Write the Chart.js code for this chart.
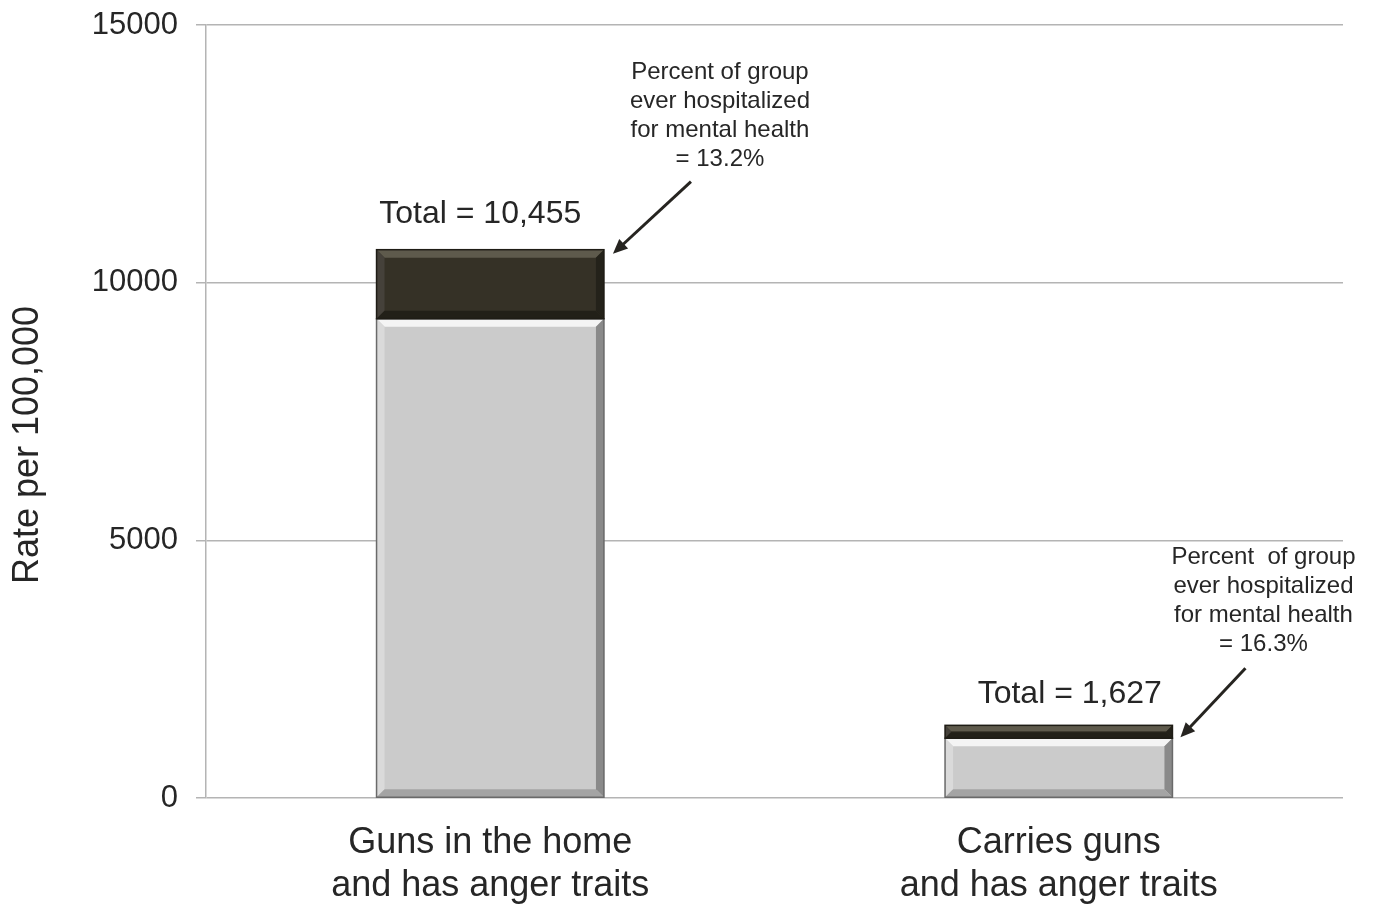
<!DOCTYPE html>
<html>
<head>
<meta charset="utf-8">
<script src="https://cdn.jsdelivr.net/npm/chart.js@4.4.0/dist/chart.umd.min.js"></script>
<style>
  html, body { margin: 0; padding: 0; background: #fff; }
  #wrap { width: 1376px; height: 906px; }
</style>
</head>
<body>
<div id="wrap"><canvas id="chart" width="1376" height="906"></canvas></div>
<script>
// data
const categories = [["Guns in the home", "and has anger traits"], ["Carries guns", "and has anger traits"]];
const neverHospitalized = [9300, 1160];
const everHospitalized = [1340, 250];
const totalLabels = ["Total = 10,455", "Total = 1,627"];
const percentNotes = [
  ["Percent of group", "ever hospitalized", "for mental health", "= 13.2%"],
  ["Percent  of group", "ever hospitalized", "for mental health", "= 16.3%"]
];
const yTicks = [0, 5000, 10000, 15000];
const yTitle = "Rate per 100,000";

// placement of the callouts, relative to the top-right corner of each bar
const callouts = [
  { totalDx: -10, totalDy: -36, noteDx: 116, noteDy: -177, tail: [87, -68], tip: [9, 4] },
  { totalDx: 11, totalDy: -31, noteDx: 91, noteDy: -168, tail: [73, -57], tip: [8, 12] }
];

const FONT = "'Liberation Sans', Arial, sans-serif";
const TEXT = '#262626';

// bevelled bar look
const bevelPlugin = {
  id: 'bevel',
  afterDatasetsDraw(chart) {
    const ctx = chart.ctx;
    const styles = [
      { top: '#f4f4f4', left: '#dadada', right: '#8a8a8a', bottom: '#a4a4a4', edge: '#6a6a6a' },
      { top: '#5e5a4c', left: '#45413a', right: '#24221a', bottom: '#222018', edge: '#1e1c15' }
    ];
    chart.data.datasets.forEach((ds, di) => {
      const meta = chart.getDatasetMeta(di);
      meta.data.forEach(bar => {
        const x0 = bar.x - bar.width / 2, x1 = bar.x + bar.width / 2;
        const y0 = Math.min(bar.y, bar.base), y1 = Math.max(bar.y, bar.base);
        const b = Math.min(8, (y1 - y0) / 2.2);
        const s = styles[di];
        const poly = (pts, c) => {
          ctx.beginPath();
          ctx.moveTo(pts[0][0], pts[0][1]);
          pts.slice(1).forEach(p => ctx.lineTo(p[0], p[1]));
          ctx.closePath();
          ctx.fillStyle = c;
          ctx.fill();
        };
        ctx.save();
        poly([[x0, y0], [x1, y0], [x1 - b, y0 + b], [x0 + b, y0 + b]], s.top);
        poly([[x0, y0], [x0 + b, y0 + b], [x0 + b, y1 - b], [x0, y1]], s.left);
        poly([[x1, y0], [x1, y1], [x1 - b, y1 - b], [x1 - b, y0 + b]], s.right);
        poly([[x0, y1], [x0 + b, y1 - b], [x1 - b, y1 - b], [x1, y1]], s.bottom);
        ctx.strokeStyle = s.edge;
        ctx.lineWidth = 1.5;
        ctx.strokeRect(x0, y0, x1 - x0, y1 - y0);
        ctx.restore();
      });
    });
  }
};

// totals, notes, arrows and the axis title (sits a bit below the middle)
const calloutPlugin = {
  id: 'callouts',
  afterDraw(chart) {
    const ctx = chart.ctx;
    const area = chart.chartArea;

    ctx.save();
    ctx.translate(28, area.bottom - 353);
    ctx.rotate(-Math.PI / 2);
    ctx.fillStyle = TEXT;
    ctx.textAlign = 'center';
    ctx.textBaseline = 'middle';
    ctx.font = '36px ' + FONT;
    ctx.fillText(yTitle, 0, 0);
    ctx.restore();

    const topMeta = chart.getDatasetMeta(1);
    topMeta.data.forEach((bar, i) => {
      const c = callouts[i];
      const right = bar.x + bar.width / 2;
      const top = bar.y;
      ctx.save();
      ctx.fillStyle = TEXT;
      ctx.textAlign = 'center';
      ctx.textBaseline = 'middle';
      ctx.font = '32px ' + FONT;
      ctx.fillText(totalLabels[i], bar.x + c.totalDx, top + c.totalDy);
      ctx.font = '24px ' + FONT;
      percentNotes[i].forEach((line, k) => {
        ctx.fillText(line, right + c.noteDx, top + c.noteDy + k * 29);
      });
      // arrow
      const tx = right + c.tip[0], ty = top + c.tip[1];
      const sx = right + c.tail[0], sy = top + c.tail[1];
      const ang = Math.atan2(ty - sy, tx - sx);
      const head = 16;
      ctx.strokeStyle = '#262420';
      ctx.fillStyle = '#262420';
      ctx.lineWidth = 3;
      ctx.beginPath();
      ctx.moveTo(sx, sy);
      ctx.lineTo(tx - Math.cos(ang) * head * 0.8, ty - Math.sin(ang) * head * 0.8);
      ctx.stroke();
      ctx.beginPath();
      ctx.moveTo(tx, ty);
      ctx.lineTo(tx - head * Math.cos(ang - 0.42), ty - head * Math.sin(ang - 0.42));
      ctx.lineTo(tx - head * Math.cos(ang + 0.42), ty - head * Math.sin(ang + 0.42));
      ctx.closePath();
      ctx.fill();
      ctx.restore();
    });
  }
};

new Chart(document.getElementById('chart').getContext('2d'), {
  type: 'bar',
  data: {
    labels: categories,
    datasets: [
      {
        label: 'Never hospitalized',
        backgroundColor: '#cbcbcb',
        borderWidth: 0,
        data: neverHospitalized
      },
      {
        label: 'Ever hospitalized',
        backgroundColor: '#353126',
        borderWidth: 0,
        data: everHospitalized
      }
    ]
  },
  options: {
    responsive: false,
    animation: false,
    devicePixelRatio: 1,
    layout: { padding: { top: 25, right: 33, left: 0, bottom: 0 } },
    datasets: { bar: { barPercentage: 0.4, categoryPercentage: 1 } },
    plugins: {
      legend: { display: false },
      tooltip: { enabled: false }
    },
    scales: {
      x: {
        stacked: true,
        grid: { display: false },
        border: { display: false },
        ticks: {
          color: TEXT,
          padding: 15,
          maxRotation: 0,
          font: { family: FONT, size: 36, lineHeight: 1.2 }
        },
        afterFit(scale) { scale.height = 108; }
      },
      y: {
        stacked: true,
        min: 0,
        max: 15000,
        afterBuildTicks(scale) { scale.ticks = yTicks.map(v => ({ value: v })); },
        grid: { color: '#b4b4b4', lineWidth: 1.5, tickLength: 10 },
        border: { display: true, color: '#b4b4b4', width: 1.5 },
        ticks: {
          color: TEXT,
          padding: 18,
          font: { family: FONT, size: 31 },
          callback: v => String(v)
        },
        afterFit(scale) {
          scale.width = 206;
          scale.paddingTop = 0;
          scale.paddingBottom = 0;
        }
      }
    }
  },
  plugins: [bevelPlugin, calloutPlugin]
});
</script>
</body>
</html>
